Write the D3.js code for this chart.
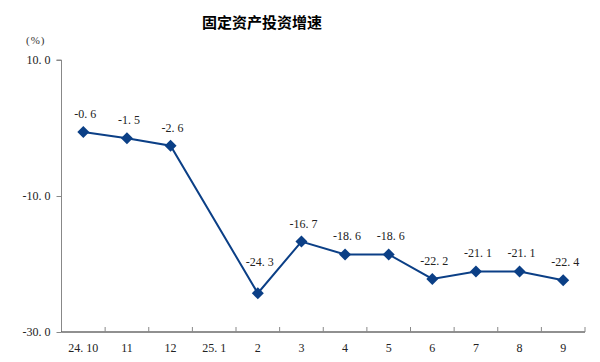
<!DOCTYPE html>
<html><head><meta charset="utf-8">
<script src="https://cdn.jsdelivr.net/npm/d3@7"></script>
<style>body{margin:0;background:#fff}</style>
</head><body><svg id="c" width="600" height="362"></svg>
<script>
const categories = ["24.10","11","12","25.1","2","3","4","5","6","7","8","9"];
const values = [-0.6,-1.5,-2.6,null,-24.3,-16.7,-18.6,-18.6,-22.2,-21.1,-21.1,-22.4];
const yTicks = [10,-10,-30];
const title = "固定资产投资增速";
const unit = "(%)";

const svg = d3.select("#c");
const m = {l:61.5, r:585, t:60, b:332};
const x = d3.scaleBand().domain(categories).range([m.l, m.r]);
const y = d3.scaleLinear().domain([-30,10]).range([m.b, m.t]);
const numFont = "'Liberation Serif', serif";
const color = "#0b3f86";

svg.append("text").attr("x",262).attr("y",28).attr("text-anchor","middle")
  .attr("font-family","'Noto Sans CJK SC'").attr("font-weight","bold").attr("font-size",15).text(title);
svg.append("text").attr("x",26).attr("y",44).attr("font-family",numFont).attr("font-size",11)
  .attr("letter-spacing",1).attr("fill","#333").text(unit);

// y axis
const ya = svg.append("g").attr("transform",`translate(${m.l},0)`)
  .call(d3.axisLeft(y).tickValues(yTicks).tickSize(5).tickPadding(6).tickFormat(d=>d3.format(".1f")(d).replace("−","-").replace(".",". ")));
ya.select(".domain").attr("stroke","#888").attr("d",`M-5,${m.t}H0V${m.b}`);
ya.selectAll(".tick line").attr("stroke","#888");
ya.selectAll("text").attr("font-family",numFont).attr("font-size",12).attr("fill","#222").attr("xml:space","preserve").style("white-space","pre");

// x axis
const xa = svg.append("g").attr("transform",`translate(0,${m.b})`)
  .call(d3.axisBottom(x).tickSize(0).tickPadding(11).tickFormat(d=>d.replace(".",". ")));
xa.select(".domain").attr("stroke","#222").attr("stroke-width",1.2).attr("d",`M${m.l},0H${m.r}`);
xa.selectAll("text").attr("font-family",numFont).attr("font-size",12).attr("fill","#222").style("white-space","pre");
const bounds = categories.map(c=>x(c)+x.bandwidth());
svg.append("g").selectAll("line").data(bounds).join("line")
  .attr("x1",d=>d).attr("x2",d=>d).attr("y1",m.b).attr("y2",m.b-5).attr("stroke","#888");

// line
const pts = categories.map((c,i)=>({c, v:values[i], i})).filter(d=>d.v!=null);
const line = d3.line().x(d=>x(d.c)+x.bandwidth()/2).y(d=>y(d.v));
svg.append("path").datum(pts).attr("d",line).attr("fill","none").attr("stroke",color).attr("stroke-width",2);

svg.append("g").selectAll("path").data(pts).join("path")
  .attr("d",d3.symbol(d3.symbolSquare,72))
  .attr("transform",d=>`translate(${x(d.c)+x.bandwidth()/2},${y(d.v)}) rotate(45)`)
  .attr("fill",color);

svg.append("g").selectAll("text").data(pts).join("text")
  .attr("x",d=>x(d.c)+x.bandwidth()/2 + 2)
  .attr("y",d=>y(d.v) - (d.c==="2" ? 27 : 14))
  .attr("text-anchor","middle").attr("font-family",numFont).attr("font-size",12).attr("fill","#222")
  .style("white-space","pre")
  .text(d=>d3.format(".1f")(d.v).replace("−","-").replace(".",". "));
</script></body></html>
